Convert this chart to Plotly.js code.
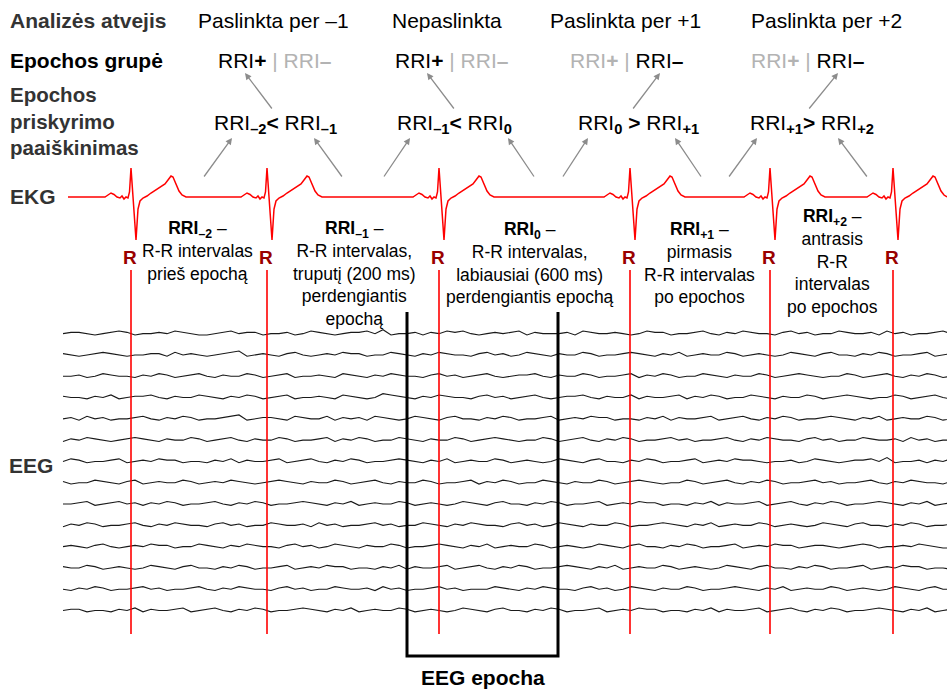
<!DOCTYPE html>
<html>
<head>
<meta charset="utf-8">
<script src="https://cdn.plot.ly/plotly-3.0.1.min.js"></script>
<style>html,body{margin:0;padding:0;background:#fff;}#chart{width:947px;height:689px;}</style>
</head>
<body>
<div id="chart"></div>
<script>
// ---------- data ----------
// R-peak times (diagram time units)
const rPeaks = [131, 267, 439, 630, 770, 893];
// one ECG beat template: offsets from the R peak and amplitudes (upward)
const beatOffsets = [-40,-30,-26,-23,-20,-17,-14,-11,-9,-7,-5,-3,-1.5,0,2,4,5,7,9,12,16,20,25,30,34,37,40,42,45,48,51,55,60];
const beatValues  = [0,0.5,0,2,4,2.5,0,-1,1,-2,0,-1,5,29,0,-36,-43,-12,-4,-1,1,4,7,10,13,17,21,20,13,6,2,0,0];
const ecgStart = 68, ecgEnd = 947, ecgBase = 197;
// EEG channels (hand-read sample levels, 0-9)
const eegChannels = [
"45543456534454654334564553445346543455647344535465643454563544453654454346553445643546544356453446544536453445645344",
"54345654344553645434567345435643454655344654354654435645346543544653445654354634544653454346543564435465344563454655",
"44534654435465345643544653456344543654354654435645345643455643544653445635465344654354465345654344653456435465344565",
"54435463455643544654354653456344543654347654354654435645345643455643544635445635465344654354465345654344653456435465",
"45364534456435465344567345543654463545365434654356443546534456345465534435463544563456435465344565435463454465345434",
"35465434565435446534564354465344563546534465435446534565434465345643546534456453445643546544356453446544536453445645",
"46534456345465534435463544563456435465344565435463454465345434654356443546534456345465543445346543455647344535465643",
"53446543563454465345465434565435446534564354465344563546534465435446534565434465345643546534456453445643546544356453",
"44563456453546534456435465344565435463454465345434654356443546534456345465534435463544563456435465344565435463454465",
"35465344564354654435645344654453645344564534465435465443564534654354465344565435463454465345434654356443546534456345",
"45435643454655344654354654435645346543544653445654354634544653454346543564435465344563454655345543456534454654334564",
"54465345434654356443546534456345465534435463544563456435465344565435463454465345434654356443546534456345465534435463",
"43546534456453445643546544356453446544536453445645344465435465443564534654354465344565435463454465345434654356443546",
"45534435463544563456435465344565435463454465345434654356443546534456345465534435463544563456435465344565435463454465"
];
const eegStart = 63, eegStep = 8, eegTop = 333, eegSpacing = 21.3;
// EEG epoch
const epochStart = 407, epochEnd = 558;

// Text
const caseLabels = ["Paslinkta per –1", "Nepaslinkta", "Paslinkta per +1", "Paslinkta per +2"];
const caseX = [273, 447, 625, 826];
const groupX = [275, 452, 627, 808];
const groupActive = ["+", "+", "–", "–"];
const compX = [275, 454, 638, 812];
const compLabels = [
  "RRI<sub><b>–2</b></sub><b>&lt;</b> RRI<sub><b>–1</b></sub>",
  "RRI<sub><b>–1</b></sub><b>&lt;</b> RRI<sub><b>0</b></sub>",
  "RRI<sub><b>0</b></sub> <b>&gt;</b> RRI<sub><b>+1</b></sub>",
  "RRI<sub><b>+1</b></sub><b>&gt;</b> RRI<sub><b>+2</b></sub>"
];
const descX = [197, 354, 530, 699, 832];
const descY = [251, 273, 263, 263, 261];
const descLabels = [
  "<b>RRI<sub>–2</sub></b> –<br>R-R intervalas<br>prieš epochą",
  "<b>RRI<sub>–1</sub></b> –<br>R-R intervalas,<br>truputį (200 ms)<br>perdengiantis<br>epochą",
  "<b>RRI<sub>0</sub></b> –<br>R-R intervalas,<br>labiausiai (600 ms)<br>perdengiantis epochą",
  "<b>RRI<sub>+1</sub></b> –<br>pirmasis<br>R-R intervalas<br>po epochos",
  "<b>RRI<sub>+2</sub></b> –<br>antrasis<br>R-R<br>intervalas<br>po epochos"
];
// arrows: [tailX, tailY, headX, headY]
const upArrows = [[273,110,245,73],[455,110,427,73],[632,110,660,73],[808,110,838,73]];
const lowArrows = [[203,178,232,138],[343,178,314,138],[383,178,410,138],[535,178,508,138],
                   [562,178,588,138],[702,178,675,138],[728,178,757,138],[868,178,838,138]];

// ---------- build ----------
const FONT = 'Arial, "Liberation Sans", sans-serif';
const traces = [];

// EEG
eegChannels.forEach((s, i) => {
  const xs = [], ys = [];
  for (let k = 0; k < s.length; k++) {
    xs.push(eegStart + k * eegStep);
    ys.push(eegTop + i * eegSpacing - (Number(s[k]) - 4.5) * 1.3);
  }
  traces.push({x: xs, y: ys, mode: 'lines', line: {color: '#1a1a1a', width: 1.1}, hoverinfo: 'skip'});
});

// R vertical lines
rPeaks.forEach(r => {
  traces.push({x: [r, r], y: [270, 634], mode: 'lines', line: {color: '#ff0000', width: 1.6}, hoverinfo: 'skip'});
});

// EEG epoch bracket
traces.push({x: [epochStart, epochStart, epochEnd, epochEnd], y: [312, 656, 656, 312],
  mode: 'lines', line: {color: '#000', width: 3}, hoverinfo: 'skip'});

// ECG
const ex = [ecgStart], ey = [ecgBase];
rPeaks.forEach(r => {
  beatOffsets.forEach((o, j) => {
    const t = r + o;
    if (t > ecgStart && t < ecgEnd) { ex.push(t); ey.push(ecgBase - beatValues[j]); }
  });
});
ex.push(ecgEnd); ey.push(ecgBase);
traces.push({x: ex, y: ey, mode: 'lines', line: {color: '#ff0000', width: 1.5}, hoverinfo: 'skip'});

// annotations
const ann = [];
function txt(x, y, text, opts) {
  ann.push(Object.assign({x: x, y: y, xref: 'x', yref: 'y', text: text, showarrow: false,
    xanchor: 'center', yanchor: 'middle', font: {family: FONT, size: 21, color: '#000'}}, opts || {}));
}
// left labels
txt(8, 20, '<b>Analizės atvejis</b>', {xanchor: 'left', font: {family: FONT, size: 21, color: '#333'}});
txt(8, 60, '<b>Epochos grupė</b>', {xanchor: 'left', font: {family: FONT, size: 21, color: '#000'}});
txt(8, 121, '<b>Epochos<br>priskyrimo<br>paaiškinimas</b>', {xanchor: 'left', align: 'left', font: {family: FONT, size: 20.5, color: '#333'}});
txt(8, 196, '<b>EKG</b>', {xanchor: 'left', font: {family: FONT, size: 21, color: '#333'}});
txt(7, 465, '<b>EEG</b>', {xanchor: 'left', font: {family: FONT, size: 21, color: '#333'}});
// headers
caseLabels.forEach((c, i) => txt(caseX[i], 20, c));
// groups
const GRAY = '#b3b3b3';
groupX.forEach((x, i) => {
  let t;
  if (groupActive[i] === '+') {
    t = 'RRI<b>+</b><span style="color:' + GRAY + '"> | RRI<b>–</b></span>';
  } else {
    t = '<span style="color:' + GRAY + '">RRI<b>+</b> | </span>RRI<b>–</b>';
  }
  txt(x, 60, t);
});
// comparisons
compLabels.forEach((c, i) => txt(compX[i], 124, c));
// descriptions
descLabels.forEach((d, i) => txt(descX[i], descY[i], d, {font: {family: FONT, size: 17.5, color: '#000'}}));
// R labels
rPeaks.forEach(r => txt(r - 1, 257, '<b>R</b>', {font: {family: FONT, size: 19, color: '#990000'}}));
// epoch label
txt((epochStart + epochEnd) / 2, 677, '<b>EEG epocha</b>', {font: {family: FONT, size: 21, color: '#000'}});
// arrows
upArrows.concat(lowArrows).forEach(a => {
  ann.push({x: a[2], y: a[3], ax: a[0], ay: a[1], xref: 'x', yref: 'y', axref: 'x', ayref: 'y',
    text: '', showarrow: true, arrowhead: 2, arrowsize: 1, arrowwidth: 1.3, arrowcolor: '#8c8c8c', standoff: 0});
});

const layout = {
  width: 947, height: 689,
  margin: {l: 0, r: 0, t: 0, b: 0},
  paper_bgcolor: '#fff', plot_bgcolor: '#fff',
  showlegend: false,
  font: {family: FONT},
  xaxis: {range: [0, 947], visible: false, fixedrange: true},
  yaxis: {range: [689, 0], visible: false, fixedrange: true},
  annotations: ann
};
Plotly.newPlot('chart', traces, layout, {staticPlot: true, displayModeBar: false});
</script>
</body>
</html>
